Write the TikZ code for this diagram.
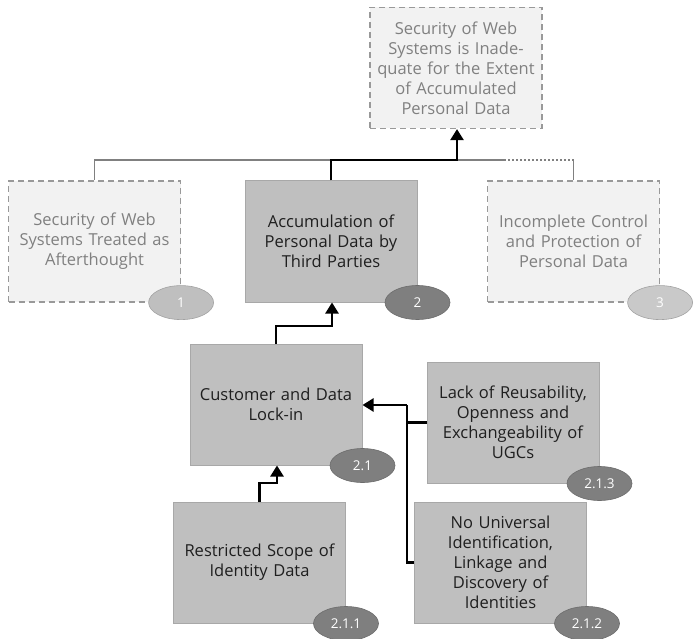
\documentclass[tikz,border=0pt]{standalone}
\usepackage{fontspec}
\setmainfont{Open Sans}
\usetikzlibrary{arrows.meta,shapes.geometric}
\definecolor{boxfill}{HTML}{BFBFBF}
\definecolor{boxline}{HTML}{A8A8A8}
\definecolor{ghostfill}{HTML}{F2F2F2}
\definecolor{ghostline}{HTML}{999999}
\definecolor{ghosttext}{HTML}{808080}
\definecolor{tagdark}{HTML}{7F7F7F}
\definecolor{taglight}{HTML}{BFBFBF}
\definecolor{linkgray}{HTML}{808080}
\tikzset{
  solidbox/.style={rectangle, fill=boxfill, draw=boxline, line width=1pt,
    minimum width=172pt, minimum height=121pt, align=center, text width=168pt,
    font=\fontsize{16.5}{20}\selectfont, text=black!88, inner sep=0pt},
  ghostbox/.style={solidbox, fill=ghostfill, draw=ghostline, dash pattern=on 6pt off 4pt,
    line width=1.2pt, text=ghosttext},
  tagdarkst/.style={ellipse, fill=tagdark, draw=tagdark!85!black, line width=0.6pt,
    minimum width=65pt, minimum height=34pt, inner sep=0pt, text=white,
    font=\fontsize{13.5}{15}\selectfont},
  taglightst/.style={tagdarkst, fill=taglight, draw=taglight!85!black},
  link/.style={line width=2.4pt, black},
  arrowlink/.style={link, -{Triangle[length=11pt,width=13pt]}},
  graylink/.style={line width=1.8pt, linkgray},
}
\begin{document}
\begin{tikzpicture}[x=1pt,y=-1pt]
\useasboundingbox (0,0) rectangle (696,639);

% goal and first-level causes
\node[ghostbox] (top) at (456,68) {Security of Web\\Systems is Inade-\\quate for the Extent\\of Accumulated\\Personal Data};
\node[ghostbox] (c1) at (94.5,241.5) {Security of Web\\Systems Treated as\\Afterthought};
\node[solidbox] (c2) at (331,241.5) {Accumulation of\\Personal Data by\\Third Parties};
\node[ghostbox] (c3) at (573.5,241.5) {Incomplete Control\\and Protection of\\Personal Data};

% second-level causes
\node[solidbox] (c21) at (276,404.5) {Customer and Data\\Lock-in};
\node[solidbox] (c213) at (513,422.5) {Lack of Reusability,\\Openness and\\Exchangeability of\\UGCs};
\node[solidbox] (c211) at (259.5,562.5) {Restricted Scope of\\Identity Data};
\node[solidbox] (c212) at (500.5,562.5) {No Universal\\Identification,\\Linkage and\\Discovery of\\Identities};

% junction points
\coordinate (j) at (457,160);
\coordinate (dotend) at (505,160);
\coordinate (k2) at (332,326);
\coordinate (k1) at (277,483);
\coordinate (kr) at (407,405);

% grey links of the faded causes
\draw[graylink] (c1.north) |- (c2.north |- j);
\draw[graylink] (c3.north) -- (c3.north |- j);
\draw[graylink, dash pattern=on 2pt off 2pt] (c3.north |- j) -- (dotend);
\draw[graylink] (dotend) -- (j);

% black causal links
\draw[arrowlink] (c2.north) |- (j) -- (top.south -| j);
\draw[arrowlink] (c21.north) |- (k2) -- (c2.south -| k2);
\draw[arrowlink] (c211.north) |- (k1) -- (c21.south -| k1);
\draw[link] (c213.west) -| (kr);
\draw[link] (c212.west) -| (kr);
\draw[arrowlink] (kr) -- (c21.east |- kr);

% numbering tags
\node[taglightst] (t1) at (c1.south east) {1};
\node[tagdarkst] (t2) at (c2.south east) {2};
\node[taglightst, fill=taglight!85!white] (t3) at (c3.south east) {3};
\node[tagdarkst] (t21) at (c21.south east) {2.1};
\node[tagdarkst] (t213) at (c213.south east) {2.1.3};
\node[tagdarkst] (t211) at (c211.south east) {2.1.1};
\node[tagdarkst] (t212) at (c212.south east) {2.1.2};
\end{tikzpicture}
\end{document}
